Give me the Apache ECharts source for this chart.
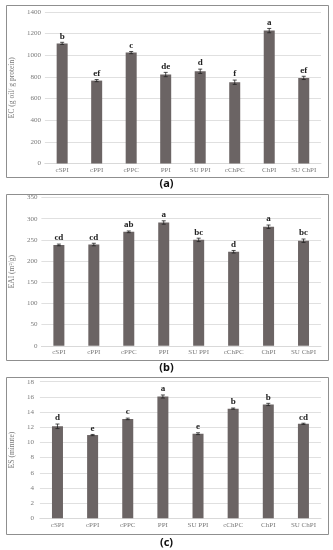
<!DOCTYPE html>
<html>
<head>
<meta charset="utf-8">
<script src="https://cdn.jsdelivr.net/npm/echarts@6/dist/echarts.min.js"></script>
<style>
html,body{margin:0;padding:0;background:#fff;}
#c{width:333px;height:550px;}
</style>
</head>
<body>
<div id="c"></div>
<script>
var categories = ['cSPI', 'cPPI', 'cPPC', 'PPI', 'SU PPI', 'cChPC', 'ChPI', 'SU ChPI'];

var ecValues = [1110, 766, 1025, 822, 852, 751, 1228, 791];
var ecErr = [10, 10, 10, 20, 20, 20, 20, 15];
var ecLetters = ['b', 'ef', 'c', 'de', 'd', 'f', 'a', 'ef'];

var eaiValues = [238, 239, 269, 291, 250, 222, 281, 248];
var eaiErr = [2, 3, 2, 4, 4, 3, 4, 4];
var eaiLetters = ['cd', 'cd', 'ab', 'a', 'bc', 'd', 'a', 'bc'];

var esValues = [12.12, 10.97, 13.1, 16.05, 11.15, 14.45, 15.0, 12.45];
var esErr = [0.3, 0.08, 0.1, 0.2, 0.12, 0.08, 0.15, 0.08];
var esLetters = ['d', 'e', 'c', 'a', 'e', 'b', 'b', 'cd'];

var yTicksA = {min: 0, max: 1400, interval: 200};
var yTicksB = {min: 0, max: 350, interval: 50};
var yTicksC = {min: 0, max: 18, interval: 2};

var panels = [
  {vals: ecValues, err: ecErr, letters: ecLetters, ticks: yTicksA, name: 'EC (g oil/ g protein)',
   grid: {left: 37, width: 284, top: 12, height: 151.5}, nameGap: 22, labelMargin: 4, tag: '(a)', tagY: 184,
   box: [4, 3, 322, 172]},
  {vals: eaiValues, err: eaiErr, letters: eaiLetters, ticks: yTicksB, name: 'EAI (m²/g)',
   grid: {left: 34, width: 287, top: 197.5, height: 148.3}, nameGap: 19, labelMargin: 4, tag: '(b)', tagY: 368,
   box: [4, 192, 322, 166]},
  {vals: esValues, err: esErr, letters: esLetters, ticks: yTicksC, name: 'ES (minute)',
   grid: {left: 33, width: 288, top: 381.7, height: 136.6}, nameGap: 18, labelMargin: 6, tag: '(c)', tagY: 543,
   box: [4, 375, 322, 157]}
];

var serif = "'Liberation Serif', 'DejaVu Serif', serif";
var barColor = '#6b6464';

var option = {
  animation: false,
  backgroundColor: '#fff',
  grid: [], xAxis: [], yAxis: [], series: [], graphic: []
};

panels.forEach(function (p, i) {
  option.grid.push(p.grid);
  option.xAxis.push({
    type: 'category', gridIndex: i, data: categories,
    axisLine: {show: true, lineStyle: {color: '#d9d9d9', width: 1}},
    axisTick: {show: false},
    axisLabel: {color: '#7a7a7a', fontFamily: serif, fontSize: 7, margin: 3, interval: 0}
  });
  option.yAxis.push({
    type: 'value', gridIndex: i, min: p.ticks.min, max: p.ticks.max, interval: p.ticks.interval,
    name: p.name, nameLocation: 'middle', nameGap: p.nameGap, nameRotate: 90,
    nameTextStyle: {color: '#7a7a7a', fontFamily: serif, fontSize: 7.5},
    axisLine: {show: false}, axisTick: {show: false},
    axisLabel: {color: '#7a7a7a', fontFamily: serif, fontSize: 7, margin: p.labelMargin,
      formatter: function (v) { return String(v); }},
    splitLine: {show: true, lineStyle: {color: '#e0e0e0', width: 1}}
  });
  option.series.push({
    type: 'bar', xAxisIndex: i, yAxisIndex: i, data: p.vals,
    barWidth: 11, itemStyle: {color: barColor}, silent: true
  });
  option.series.push({
    type: 'custom', xAxisIndex: i, yAxisIndex: i, silent: true, z: 5,
    data: p.vals.map(function (v, k) { return [k, v, p.err[k]]; }),
    renderItem: function (params, api) {
      var k = api.value(0), v = api.value(1), e = api.value(2);
      var top = api.coord([k, v + e]);
      var bot = api.coord([k, v - e]);
      var cap = 2;
      return {
        type: 'group',
        children: [
          {type: 'line', shape: {x1: top[0], y1: top[1], x2: bot[0], y2: bot[1]}, style: {stroke: '#222', lineWidth: 0.8}},
          {type: 'line', shape: {x1: top[0] - cap, y1: top[1], x2: top[0] + cap, y2: top[1]}, style: {stroke: '#222', lineWidth: 0.8}},
          {type: 'line', shape: {x1: bot[0] - cap, y1: bot[1], x2: bot[0] + cap, y2: bot[1]}, style: {stroke: '#222', lineWidth: 0.8}},
          {type: 'text', x: top[0], y: top[1] - 1.5,
           style: {text: p.letters[params.dataIndex], fill: '#222', font: 'bold 9px ' + serif, align: 'center', verticalAlign: 'bottom'}}
        ]
      };
    }
  });
  option.graphic.push({
    type: 'rect', left: p.box[0], top: p.box[1], silent: true,
    shape: {width: p.box[2], height: p.box[3]},
    style: {fill: 'none', stroke: '#8f8f8f', lineWidth: 1}
  });
  option.graphic.push({
    type: 'text', x: 166.5, y: p.tagY, silent: true,
    style: {text: p.tag, fill: '#111', font: 'bold 11px "Noto Sans", sans-serif', align: 'center', verticalAlign: 'middle'}
  });
});

var chart = echarts.init(document.getElementById('c'), null, {renderer: 'canvas'});
chart.setOption(option);
</script>
</body>
</html>
